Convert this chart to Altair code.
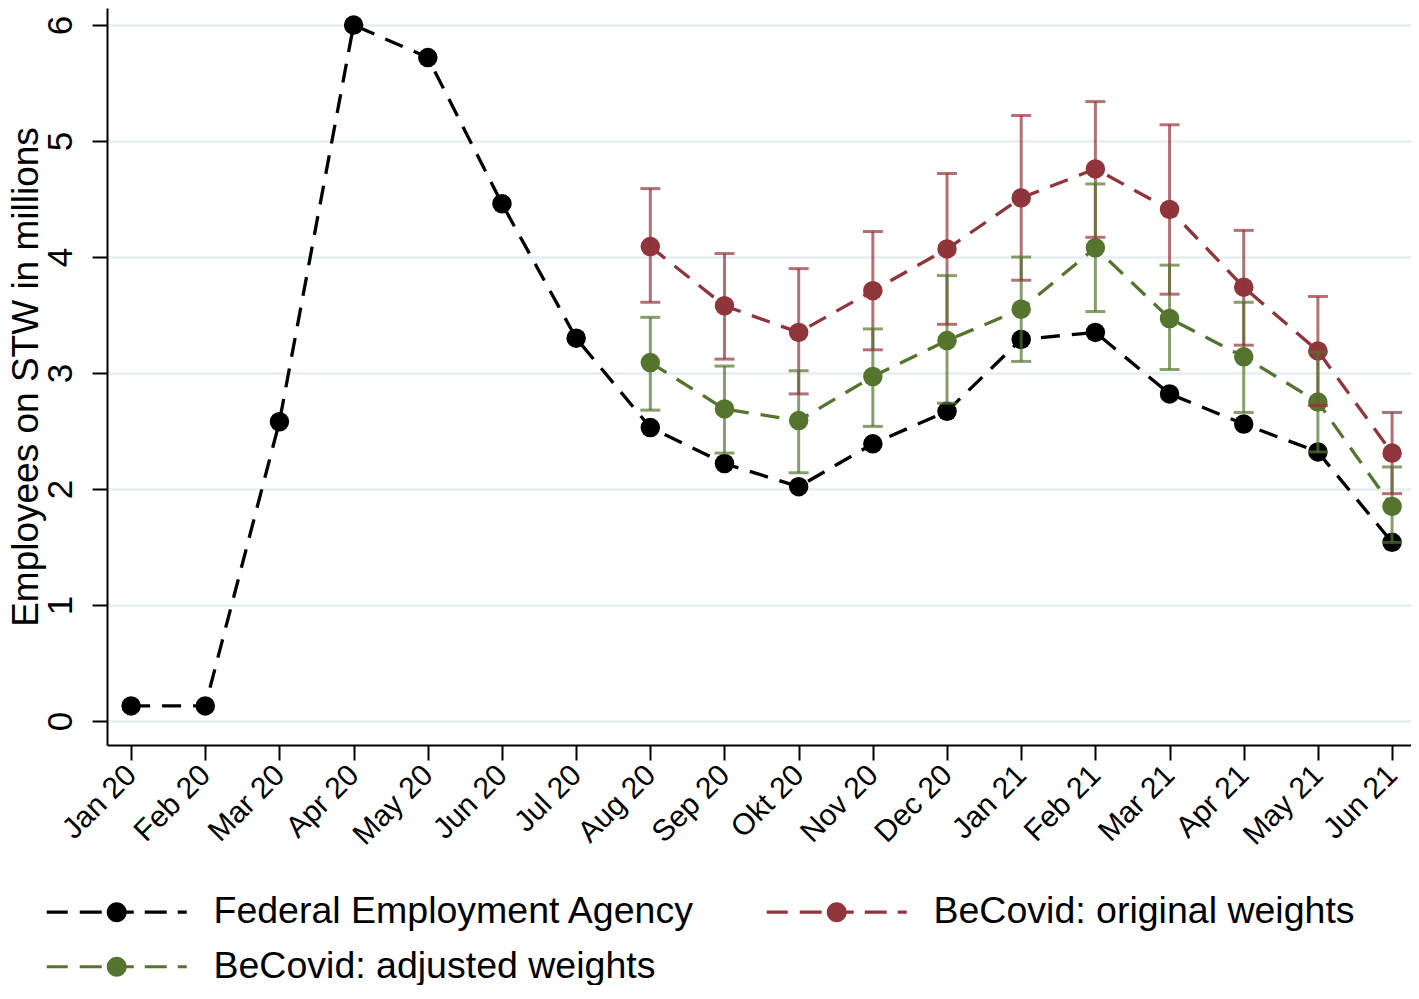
import altair as alt
import pandas as pd

# ---------------- data ----------------
months = ["Jan 20", "Feb 20", "Mar 20", "Apr 20", "May 20", "Jun 20", "Jul 20",
          "Aug 20", "Sep 20", "Okt 20", "Nov 20", "Dec 20", "Jan 21", "Feb 21",
          "Mar 21", "Apr 21", "May 21", "Jun 21"]
series_names = ["Federal Employment Agency", "BeCovid: original weights",
                "BeCovid: adjusted weights"]
series_colors = ["#000000", "#90353B", "#55752F"]

fea = [0.13, 0.13, 2.58, 6.00, 5.72, 4.46, 3.30, 2.53, 2.22, 2.02, 2.39, 2.67,
       3.29, 3.35, 2.82, 2.56, 2.32, 1.54]

survey_months = months[7:]
orig = [4.09, 3.58, 3.35, 3.71, 4.07, 4.51, 4.76, 4.41, 3.74, 3.19, 2.31]
orig_lo = [3.61, 3.12, 2.82, 3.20, 3.42, 3.80, 4.17, 3.68, 3.24, 2.72, 1.96]
orig_hi = [4.59, 4.03, 3.90, 4.22, 4.72, 5.22, 5.34, 5.14, 4.23, 3.66, 2.66]
adj = [3.09, 2.69, 2.59, 2.97, 3.28, 3.55, 4.08, 3.47, 3.14, 2.75, 1.85]
adj_lo = [2.68, 2.31, 2.14, 2.54, 2.74, 3.10, 3.53, 3.03, 2.66, 2.32, 1.54]
adj_hi = [3.48, 3.06, 3.02, 3.38, 3.84, 4.00, 4.63, 3.93, 3.61, 3.18, 2.19]

# ---------------- tables ----------------
rows = []
for i, (m, v) in enumerate(zip(months, fea)):
    rows.append({"month": m, "idx": i, "series": series_names[0], "value": v})
for name, vals in [(series_names[1], orig), (series_names[2], adj)]:
    for m, v in zip(survey_months, vals):
        rows.append({"month": m, "idx": months.index(m), "series": name, "value": v})
df = pd.DataFrame(rows)

err_rows = []
for name, lo, hi in [(series_names[1], orig_lo, orig_hi), (series_names[2], adj_lo, adj_hi)]:
    for m, a, b in zip(survey_months, lo, hi):
        err_rows.append({"month": m, "series": name, "lo": a, "hi": b})
err = pd.DataFrame(err_rows)

FONT = "Liberation Sans"

x_enc = alt.X(
    "month:O", sort=months,
    scale=alt.Scale(type="point", padding=0.29, align=0.56),
    axis=alt.Axis(title=None, labelAngle=-45, labelAlign="right", labelBaseline="middle",
                  labelFontSize=30, labelPadding=10, tickSize=15, tickWidth=2,
                  domainWidth=2, grid=False, labelFont=FONT, labelColor="black",
                  tickColor="black", domainColor="black"),
)
y_scale = alt.Scale(domain=[-0.207, 6.147], nice=False, zero=False)
y_axis = alt.Axis(values=[0, 1, 2, 3, 4, 5, 6], title="Employees on STW in millions",
                  titleFontSize=37, titleFont=FONT, titleFontWeight="normal",
                  titleColor="black", titlePadding=-2,
                  labelAngle=-90, labelAlign="center", labelBaseline="bottom",
                  labelPadding=14, labelFontSize=35, labelFont=FONT, labelColor="black",
                  tickSize=15, tickWidth=2, tickColor="black",
                  domainWidth=2, domainColor="black",
                  grid=True, gridColor="#e6eef1", gridWidth=2.5)
y_enc = alt.Y("value:Q", scale=y_scale, axis=y_axis)

# legend key: dashed line with a dot (unit = 10 px)
legend_path = ("M-7,-0.16H-4.9V0.16H-7Z "
               "M-3.7,-0.16H-1.5V0.16H-3.7Z "
               "M0.7,-0.16H1.7V0.16H0.7Z "
               "M2.8,-0.16H5V0.16H2.8Z "
               "M6.1,-0.16H7V0.16H6.1Z "
               "M1,0A1,1 0 1,1 -1,0A1,1 0 1,1 1,0Z")

legend = alt.Legend(title=None, orient="none", direction="horizontal",
                    legendX=-9, legendY=885, columns=2,
                    columnPadding=71, rowPadding=16, symbolType=legend_path,
                    symbolSize=400, symbolStrokeWidth=0, labelFontSize=37.5,
                    labelFont=FONT, labelColor="black", labelOffset=78,
                    labelLimit=0, symbolOpacity=1)

# stroke/fill layers (no legend) use the same mapping listed in another order,
# so that their hidden legends are not merged with the colour legend
alt_names = series_names[::-1]
alt_colors = series_colors[::-1]
stroke_enc = alt.Stroke("series:N", scale=alt.Scale(domain=alt_names, range=alt_colors),
                        legend=None)
fill_enc = alt.Fill("series:N", scale=alt.Scale(domain=alt_names, range=alt_colors),
                    legend=None)
color_enc = alt.Color("series:N", scale=alt.Scale(domain=series_names, range=series_colors),
                      legend=legend)

base = alt.Chart(df)

lines = base.mark_line(strokeDash=[19, 12], strokeWidth=3.3).encode(
    x=x_enc, y=y_enc, stroke=stroke_enc, order=alt.Order("idx:Q"),
)
points = base.mark_point(filled=True, size=380, opacity=1).encode(
    x=x_enc, y=y_enc, color=color_enc,
)
ebase = alt.Chart(err)
rules = ebase.mark_rule(strokeWidth=3, opacity=0.7).encode(
    x=x_enc, y=alt.Y("lo:Q", scale=y_scale, axis=y_axis), y2="hi:Q", stroke=stroke_enc,
)
caps_lo = ebase.mark_tick(size=20, thickness=3, opacity=0.7).encode(
    x=x_enc, y=alt.Y("lo:Q", scale=y_scale, axis=y_axis), fill=fill_enc,
)
caps_hi = ebase.mark_tick(size=20, thickness=3, opacity=0.7).encode(
    x=x_enc, y=alt.Y("hi:Q", scale=y_scale, axis=y_axis), fill=fill_enc,
)

chart = alt.layer(lines, points, rules, caps_lo, caps_hi).properties(
    width=1304, height=737,
    autosize=alt.AutoSizeParams(type="none"),
    padding={"left": 99, "top": 0, "right": 0, "bottom": 240},
    background="white",
).configure_view(stroke=None)

chart.save("out.html", embed_options={"renderer": "svg", "actions": False})
